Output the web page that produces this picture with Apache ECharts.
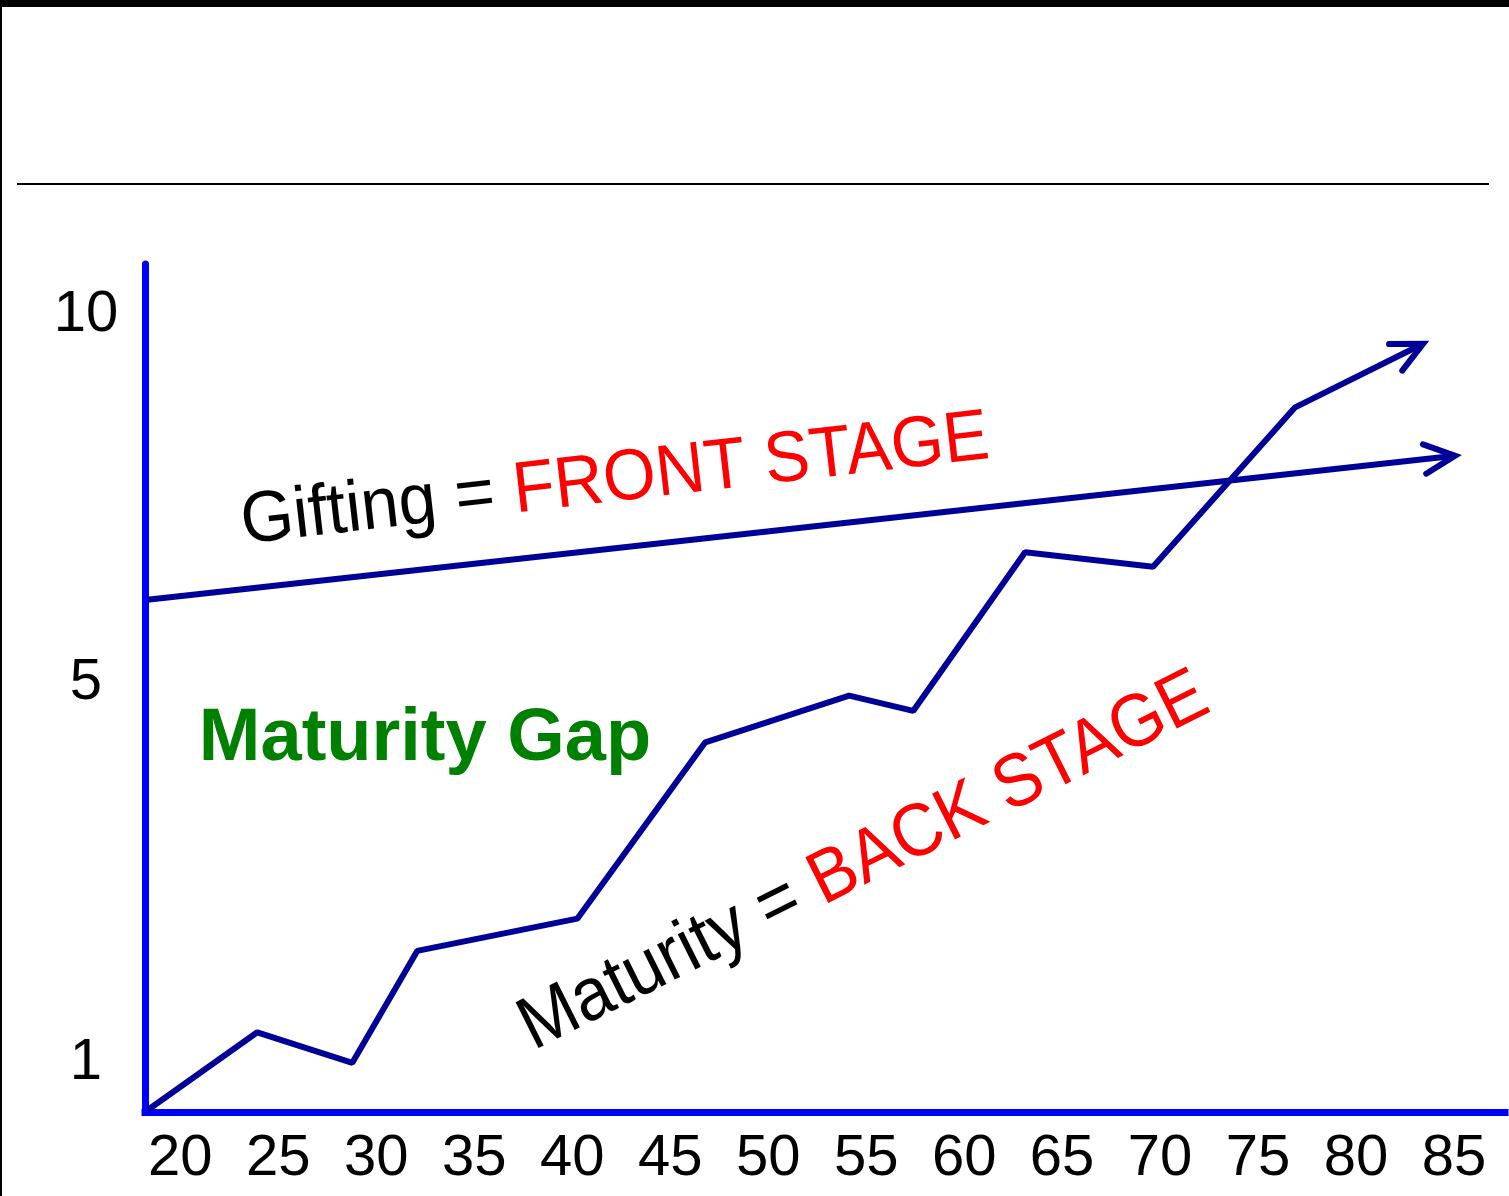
<!DOCTYPE html>
<html>
<head>
<meta charset="utf-8">
<title>Maturity Gap</title>
<script src="https://cdn.jsdelivr.net/npm/echarts@6.0.0/dist/echarts.min.js"></script>
<style>
  html, body { margin: 0; padding: 0; background: #fff; }
  #chart { width: 1509px; height: 1196px; }
</style>
</head>
<body>
<div id="chart"></div>
<script>
// x = age, y = level on a 0..100 scale (axis labels 1 / 5 / 10 sit where the slide put them)
const maturityAge   = [18.32, 23.93, 28.78, 32.09, 40.26, 46.79, 54.13, 57.40, 63.11, 69.64, 76.89, 83.42]
const maturityLevel = [0.2, 9.4, 5.8, 19.0, 22.8, 43.6, 49.1, 47.3, 66.0, 64.3, 83.1, 90.6]

const giftingAge   = [18.32, 85.05]
const giftingLevel = [60.4, 77.4]

const xTickValues = [20, 25, 30, 35, 40, 45, 50, 55, 60, 65, 70, 75, 80, 85]
const yTickValues = [5.75, 50.55, 93.95]
const yTickLabels = ['1', '5', '10']

const FONT = '"Liberation Sans", Arial, sans-serif'
const LINE_COLOR = '#000099'
const AXIS_COLOR = '#0000ff'

const toPairs = (xs, ys) => xs.map((x, i) => [x, ys[i]])
const maturityData = toPairs(maturityAge, maturityLevel)
const giftingData = toPairs(giftingAge, giftingLevel)

// arrow heads: [fromX, fromY, tipX, tipY] taken from the last segment of each line
const lastSeg = d => d[d.length - 2].concat(d[d.length - 1])
const arrowData = [lastSeg(maturityData), lastSeg(giftingData)]

const chart = echarts.init(document.getElementById('chart'))

const option = {
  animation: false,
  backgroundColor: '#fff',
  grid: { left: 145, right: 4, top: 264, bottom: 84 },
  xAxis: {
    type: 'value',
    min: 18.2,
    max: 87.6,
    splitLine: { show: false },
    axisTick: { show: false },
    axisLine: { lineStyle: { color: AXIS_COLOR, width: 7, cap: 'square' } },
    axisLabel: {
      customValues: xTickValues,
      color: '#000',
      fontSize: 58,
      fontFamily: FONT,
      margin: 18
    }
  },
  yAxis: {
    type: 'value',
    min: 0,
    max: 100,
    splitLine: { show: false },
    axisTick: { show: false },
    axisLine: { lineStyle: { color: AXIS_COLOR, width: 7 } },
    axisLabel: {
      customValues: yTickValues,
      formatter: v => {
        const i = yTickValues.indexOf(v)
        return i >= 0 ? yTickLabels[i] : ''
      },
      color: '#000',
      fontSize: 58,
      fontFamily: FONT,
      align: 'center',
      margin: 59
    }
  },
  series: [
    {
      name: 'Maturity',
      type: 'line',
      data: maturityData,
      showSymbol: false,
      symbol: 'none',
      clip: false,
      lineStyle: { color: LINE_COLOR, width: 6 }
    },
    {
      name: 'Gifting',
      type: 'line',
      data: giftingData,
      showSymbol: false,
      symbol: 'none',
      clip: false,
      lineStyle: { color: LINE_COLOR, width: 6 }
    },
    {
      name: 'arrows',
      type: 'custom',
      data: arrowData,
      encode: { x: [0, 2], y: [1, 3] },
      clip: false,
      renderItem: (params, api) => {
        const p1 = api.coord([api.value(0), api.value(1)])
        const p2 = api.coord([api.value(2), api.value(3)])
        const back = Math.atan2(p1[1] - p2[1], p1[0] - p2[0])
        const len = 34, spread = 0.45
        const a1 = [p2[0] + len * Math.cos(back + spread), p2[1] + len * Math.sin(back + spread)]
        const a2 = [p2[0] + len * Math.cos(back - spread), p2[1] + len * Math.sin(back - spread)]
        return {
          type: 'polyline',
          shape: { points: [a1, p2, a2] },
          style: { stroke: LINE_COLOR, lineWidth: 6, fill: 'none', lineCap: 'round', lineJoin: 'miter' }
        }
      }
    }
  ],
  graphic: [
    // slide frame: top bar, left edge, title rule
    { type: 'rect', left: 0, top: 0, shape: { width: 1509, height: 7 }, style: { fill: '#000' } },
    { type: 'rect', left: 0, top: 0, shape: { width: 2, height: 1196 }, style: { fill: '#000' } },
    { type: 'rect', left: 17, top: 183, shape: { width: 1472, height: 2 }, style: { fill: '#000' } },
    {
      type: 'text',
      x: 615, y: 481,
      rotation: 0.114,
      scaleY: 1.06,
      style: {
        text: '{a|Gifting = }{b|FRONT STAGE}',
        align: 'center',
        verticalAlign: 'middle',
        rich: {
          a: { fill: '#000', color: '#000', fontSize: 68, fontFamily: FONT },
          b: { fill: '#ff0000', color: '#ff0000', fontSize: 68, fontFamily: FONT }
        }
      }
    },
    {
      type: 'text',
      x: 864, y: 862,
      rotation: 0.464,
      scaleY: 1.08,
      style: {
        text: '{a|Maturity = }{b|BACK STAGE}',
        align: 'center',
        verticalAlign: 'middle',
        rich: {
          a: { fill: '#000', color: '#000', fontSize: 69, fontFamily: FONT },
          b: { fill: '#ff0000', color: '#ff0000', fontSize: 69, fontFamily: FONT }
        }
      }
    },
    {
      type: 'text',
      x: 425, y: 740,
      style: {
        text: 'Maturity Gap',
        fill: '#008000',
        fontSize: 74,
        fontWeight: 'bold',
        fontFamily: FONT,
        align: 'center',
        verticalAlign: 'middle'
      }
    }
  ]
}

chart.setOption(option)
</script>
</body>
</html>
